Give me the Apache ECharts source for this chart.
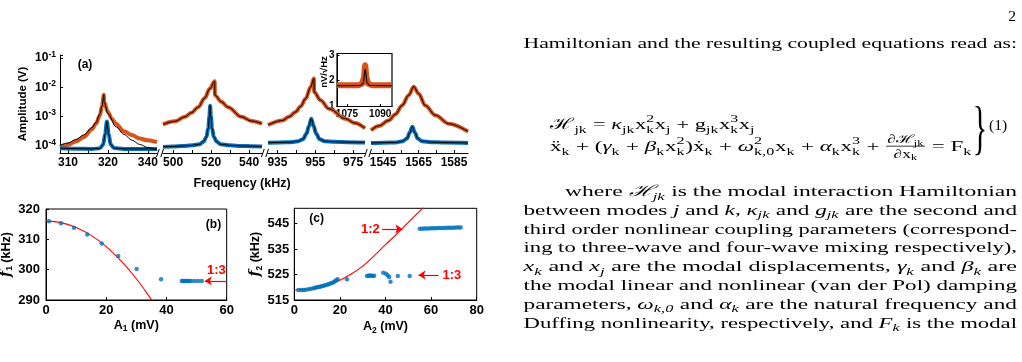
<!DOCTYPE html>
<html><head><meta charset="utf-8">
<script src="https://cdn.jsdelivr.net/npm/echarts@6/dist/echarts.min.js"></script>
<style>html,body{margin:0;padding:0;background:#fff;}#c{width:1022px;height:362px;}</style>
</head><body><div id="c"></div>
<script>
// ================= DATA =================
// Panel (a): four frequency windows (kHz) of amplitude spectra (V)
const freqRangeA = [[308,332.3],[494.7,546.8],[930,981.3],[1538.2,1592.9]];
const tickValsA  = [[310,320,330],[500,520,540],[935,955,975],[1545,1565,1585]];
const tickTextA  = [['310','320','340'],['500','520','540'],['935','955','975'],['1545','1565','1585']];
const minorTicksA = [[310,315,320,325,330],[500,510,520,530,540],[935,945,955,965,975],[1545,1555,1565,1575,1585]];

const orange1 = [[308,9.1e-5],[310,1.1e-4],[312,1.41e-4],[314,2.0e-4],[316,3.7e-4],[317,5.75e-4],[318,1.1e-3],[318.5,2.24e-3],[319,5.6e-3],[319.05,3.16e-3],[320,1.45e-3],[321,8.5e-4],[322,5.75e-4],[324,3.16e-4],[326,2.34e-4],[328,1.78e-4],[330,1.55e-4],[332.3,1.35e-4]];
const fitOrange1 = [[308,1.05e-4],[310,1.26e-4],[312,1.66e-4],[314,2.4e-4],[316,4.2e-4],[317,6.3e-4],[318,1.26e-3],[318.5,2.24e-3],[319,5.6e-3],[319.05,3.16e-3],[320,1.26e-3],[322,4.5e-4],[324,2.5e-4],[326,1.58e-4],[328,1.12e-4],[330,8.9e-5],[332.3,7.1e-5]];
const blue1 = [[308,8.3e-5],[312,8.1e-5],[316,7.9e-5],[318,8.3e-5],[318.8,1.12e-4],[319.3,2.5e-4],[319.75,6.8e-4],[320.2,2.5e-4],[320.7,1.12e-4],[321.5,8.5e-5],[324,7.9e-5],[328,7.9e-5],[332.3,7.9e-5]];

const orange2 = [[494.7,5.4e-4],[500.9,6.9e-4],[506.2,9.8e-4],[509.6,1.35e-3],[513.2,2.1e-3],[516.7,4.3e-3],[519.3,8.9e-3],[521.9,1.6e-2],[522.0,5.4e-3],[525.4,3.2e-3],[528.9,2.1e-3],[536,9.8e-4],[541.2,7.1e-4],[546.8,5.75e-4]];
const blue2 = [[494.7,9.3e-5],[500,9.6e-5],[505,1.0e-4],[510,1.05e-4],[514,1.15e-4],[516,1.4e-4],[517.5,2.0e-4],[518.5,4.0e-4],[519.1,1.0e-3],[519.5,2.35e-3],[519.9,1.0e-3],[520.5,4.0e-4],[521.5,2.0e-4],[523,1.4e-4],[525,1.15e-4],[530,1.05e-4],[536,1.0e-4],[541,9.8e-5],[546.8,9.5e-5]];

const orange3 = [[930,5.2e-4],[937.6,7.4e-4],[941.1,9.8e-4],[944.6,1.45e-3],[947.3,2.24e-3],[949.9,4.1e-3],[952.5,1.0e-2],[954.3,2.0e-2],[954.4,6.9e-3],[957.8,3.6e-3],[962.2,1.86e-3],[971,8.5e-4],[976,6.0e-4],[981.3,4.0e-4]];
const blue3 = [[930,1.29e-4],[936,1.32e-4],[942,1.35e-4],[946,1.45e-4],[948.5,1.7e-4],[950.3,2.6e-4],[951.7,4.8e-4],[952.9,8.5e-4],[954.1,4.8e-4],[955.5,2.6e-4],[957.3,1.7e-4],[960,1.45e-4],[965,1.38e-4],[972,1.35e-4],[981.3,1.32e-4]];

const orange4 = [[1538.2,3.4e-4],[1542.6,4.8e-4],[1548.2,7.4e-4],[1552,1.2e-3],[1555.7,2.4e-3],[1559.5,5.4e-3],[1562.3,1.05e-2],[1565.1,6.0e-3],[1568.8,2.4e-3],[1574.5,1.12e-3],[1582,5.75e-4],[1592.9,3.1e-4]];
const blue4 = [[1538.2,1.26e-4],[1545,1.29e-4],[1552,1.32e-4],[1556,1.45e-4],[1558.5,1.8e-4],[1560,2.8e-4],[1561.5,4.5e-4],[1563,2.8e-4],[1564.5,1.8e-4],[1567,1.45e-4],[1572,1.35e-4],[1580,1.3e-4],[1592.9,1.26e-4]];

// Inset: noise spectrum (nV/sqrt(Hz)) around 1083 kHz
const insetOrange = [[1070.5,1.82],[1080,1.82],[1081.8,1.88],[1082.6,2.1],[1083.2,2.6],[1083.8,2.1],[1084.6,1.88],[1086.5,1.82],[1095.3,1.82]];
const insetFit = [[1070.5,1.8],[1081,1.81],[1082.3,1.9],[1083.2,2.45],[1084.1,1.9],[1085.4,1.81],[1095.3,1.8]];
const insetTicksX = [1075,1090];
const insetTicksY = [1,2,3];

// Panel (b): f1 (kHz) vs A1 (mV)
const bPoints = [[1.0,316.0],[5.0,315.3],[9.3,313.8],[13.7,311.6],[18.5,308.6],[24.0,304.5],[30.1,300.2],[38.2,296.8],[45.1,296.3],[45.5,296.3],[46.0,296.3],[46.4,296.3],[46.8,296.3],[47.2,296.3],[47.7,296.3],[48.3,296.3],[49.4,296.3],[50.5,296.3],[51.7,296.3]];
const bModel = [[0,316.0],[5,315.5],[10,313.9],[15,311.3],[20,307.6],[25,302.8],[30,297.0],[35.1,290.0],[36,288.6]];

// Panel (c): f2 (kHz) vs A2 (mV)
const cPoints = [[1.8,518.9],[3,518.9],[4,518.9],[5,519.0],[6.2,519.2],[7.3,519.4],[8.4,519.6],[9.2,519.8],[9.9,520.0],[10.6,520.1],[11.3,520.2],[12,520.4],[12.8,520.6],[13.5,520.8],[14.3,521.0],[15,521.2],[15.7,521.5],[16.5,521.7],[17.2,522.0],[17.8,522.4],[18.4,522.8],[19.0,523.1],[23.1,523.1],
  [31.9,524.4],[32.5,524.5],[33.2,524.6],[33.8,524.5],[34.5,524.4],[35,524.5],
  [39,525.7],[40.2,525.3],[41,524.6],[41.6,524.0],[42.2,522.2],[45.4,524.4],[50.6,524.4],
  [55,543.0],[56,543.0],[57,543.1],[58,543.1],[59,543.1],[60,543.2],[61,543.2],[62,543.2],[63,543.3],[64,543.3],[65,543.3],[66,543.3],[67,543.4],[68,543.4],[69,543.4],[70,543.4],[71,543.5],[72,543.5],[73,543.5]];
const cModel = [[0,518.9],[5,519.1],[10,519.8],[15,521.0],[20,522.8],[25,525.2],[30,528.3],[35,532.3],[40,536.7],[45,541.0],[50,545.5],[56.2,551],[58,552.6]];
const cTicksY = [515,525,535,545];

// Annotations (data coordinates)
const bArrow13 = [[59.9,296.3],[52.7,296.3]];
const bLabel13 = [56.6,299.6];
const cArrow12 = [[38.5,542.9],[47.4,542.9]];
const cLabel12 = [33.4,542.8];
const cArrow13 = [[63.3,524.8],[54.5,524.8]];
const cLabel13 = [69.1,524.8];

// Right-hand text
const pageNumber = '2';
const introLine = 'Hamiltonian and the resulting coupled equations read as:';
const eqLines = [
  'ℋ_{jk} = *κ*_{jk}x^{2}_{k}x_{j} + g_{jk}x^{3}_{k}x_{j}',
  'ẍ_{k} + (*γ*_{k} + *β*_{k}x^{2}_{k})ẋ_{k} + *ω*^{2}_{k,0}x_{k} + *α*_{k}x^{3}_{k} + [[∂ℋ_{jk}|∂x_{k}]] = F_{k}'
];
const eqNumber = '(1)';
const paraLines = [
  'where *ℋ_{jk}* is the modal interaction Hamiltonian',
  'between modes *j* and *k*, *κ_{jk}* and *g_{jk}* are the second and',
  'third order nonlinear coupling parameters (correspond-',
  'ing to three-wave and four-wave mixing respectively),',
  '*x_{k}* and *x_{j}* are the modal displacements, *γ_{k}* and *β_{k}* are',
  'the modal linear and nonlinear (van der Pol) damping',
  'parameters, *ω_{k,0}* and *α_{k}* are the natural frequency and',
  'Duffing nonlinearity, respectively, and *F_{k}* is the modal'
];

// ================= RENDER =================
const FONT = '"Liberation Sans", Arial, sans-serif';
const SERIF = '"Liberation Serif", "DejaVu Serif", serif';
const ORANGE = '#D95319', BLUE = '#0072BD', RED = '#ff0000';
const TS = 15.6;

const mctx = document.createElement('canvas').getContext('2d');
function tw(t, size, it){ mctx.font = (it ? 'italic ' : '') + size + 'px ' + SERIF; return mctx.measureText(t).width; }
function parseMath(s){
  const toks = []; let it = false, buf = '', i = 0;
  const flush = () => { if (buf) { toks.push({k:'n', t:buf, it}); buf = ''; } };
  while (i < s.length) {
    const c = s[i];
    if (c === '*') { flush(); it = !it; i++; continue; }
    if (s.startsWith('[[', i)) { flush(); const j = s.indexOf(']]', i); const p = s.slice(i+2, j).split('|'); toks.push({k:'frac', num:parseMath(p[0]), den:parseMath(p[1])}); i = j + 2; continue; }
    if ((c === '_' || c === '^') && s[i+1] === '{') {
      flush(); const j = s.indexOf('}', i); const t = s.slice(i+2, j); const kind = c === '_' ? 'sub' : 'sup';
      const prev = toks[toks.length-1];
      if (prev && (prev.k === 'sub' || prev.k === 'sup') && prev.k !== kind && !prev.pair) prev.pair = {k:kind, t, it};
      else toks.push({k:kind, t, it});
      i = j + 1; continue;
    }
    buf += c; i++;
  }
  flush(); return toks;
}
function txt(t, x, y, size, it){
  return {type:'text', x, y, silent:true, style:{text:t, fontSize:size, fontFamily:SERIF, fontStyle: it ? 'italic' : 'normal', fill:'#000', align:'left', verticalAlign:'middle'}};
}
function lay(toks, x, y, size, out){
  let cx = x;
  for (const tk of toks) {
    if (tk.k === 'n') { out.push(txt(tk.t, cx, y, size, tk.it)); cx += tw(tk.t, size, tk.it); }
    else if (tk.k === 'sub' || tk.k === 'sup') {
      const ss = size * 0.7; const parts = [tk].concat(tk.pair ? [tk.pair] : []); let w = 0;
      for (const p of parts) { const dy = p.k === 'sub' ? size*0.3 : -size*0.38; out.push(txt(p.t, cx, y+dy, ss, p.it)); w = Math.max(w, tw(p.t, ss, p.it)); }
      cx += w + size*0.03;
    } else if (tk.k === 'frac') {
      const fs = size * 0.75; const wn = lay(tk.num, 0, 0, fs, []), wd = lay(tk.den, 0, 0, fs, []); const w = Math.max(wn, wd) + 3;
      lay(tk.num, cx + (w-wn)/2, y - size*0.45, fs, out);
      lay(tk.den, cx + (w-wd)/2, y + size*0.5, fs, out);
      out.push({type:'line', silent:true, shape:{x1:cx+0.5, y1:y-size*0.05, x2:cx+w-0.5, y2:y-size*0.05}, style:{stroke:'#000', lineWidth:0.8}});
      cx += w;
    }
  }
  return cx - x;
}
function textLine(markup, x0, x1, y){
  const ch = []; const w = lay(parseMath(markup), 0, 0, TS, ch);
  return {type:'group', x:x0, y:y, scaleX:(x1-x0)/w, children:ch};
}

const gridsA = [[60,97],[163,99],[268,97],[371,97]];
const grids = gridsA.map(g => ({left:g[0], top:55, width:g[1], height:98, outerBoundsMode:'none'}));
grids.push({left:337, top:53.5, width:55, height:53, show:true, borderColor:'#000', borderWidth:1.2, backgroundColor:'transparent', outerBoundsMode:'none'});
grids.push({left:46, top:209, width:180.7, height:91, show:true, borderColor:'#000', borderWidth:1, backgroundColor:'transparent', outerBoundsMode:'none'});
grids.push({left:294.3, top:208.3, width:182.4, height:91.7, show:true, borderColor:'#000', borderWidth:1, backgroundColor:'transparent', outerBoundsMode:'none'});

const axLine = {show:true, onZero:false, lineStyle:{color:'#000', width:1}};
const lblStyle = (fs) => ({color:'#000', fontWeight:'bold', fontSize:fs, fontFamily:FONT});
const nameRich = {
  a:{fontSize:12.5, fontWeight:'bold', fontFamily:FONT, color:'#000', lineHeight:16},
  f:{fontSize:14, fontWeight:'bold', fontStyle:'italic', fontFamily:'"DejaVu Serif", serif', color:'#000', lineHeight:16},
  s:{fontSize:8.5, fontWeight:'bold', fontFamily:FONT, color:'#000', verticalAlign:'bottom', lineHeight:10}
};

const xAxes = [], yAxes = [];
for (let k = 0; k < 4; k++) {
  xAxes.push({gridIndex:k, type:'value', min:freqRangeA[k][0], max:freqRangeA[k][1], axisLine:axLine,
    axisTick:{show:true, inside:true, length:3, customValues:minorTicksA[k], lineStyle:{color:'#000'}},
    axisLabel:Object.assign({customValues:tickValsA[k], margin:4, formatter:(v) => { const i = tickValsA[k].indexOf(v); return i >= 0 ? tickTextA[k][i] : ''; }}, lblStyle(12)),
    splitLine:{show:false}});
  yAxes.push({gridIndex:k, type:'log', logBase:10, min:5.75e-5, max:0.126, show:k === 0, axisLine:axLine,
    axisTick:{show:true, inside:true, length:3, lineStyle:{color:'#000'}},
    axisLabel:{margin:4, formatter:(v) => { const e = Math.log10(v); const r = Math.round(e); return Math.abs(e - r) < 0.01 ? '{b|10}{s|' + r + '}' : ''; },
      rich:{b:{fontSize:12, fontWeight:'bold', fontFamily:FONT, color:'#000', lineHeight:16}, s:{fontSize:8.5, fontWeight:'bold', fontFamily:FONT, color:'#000', verticalAlign:'top', lineHeight:9}}},
    splitLine:{show:false},
    name:'Amplitude (V)', nameLocation:'middle', nameRotate:90, nameGap:31,
    nameTextStyle:{fontSize:11.5, fontWeight:'bold', fontFamily:FONT, color:'#000'}});
}
// inset
xAxes.push({gridIndex:4, type:'value', min:1070.5, max:1095.3, axisLine:axLine,
  axisTick:{show:true, inside:true, length:2.5, customValues:insetTicksX, lineStyle:{color:'#000'}},
  axisLabel:Object.assign({customValues:insetTicksX, margin:3, formatter:(v) => String(v)}, lblStyle(10)), splitLine:{show:false}});
yAxes.push({gridIndex:4, type:'value', min:1, max:3.05, axisLine:axLine,
  axisTick:{show:true, inside:true, length:2.5, customValues:insetTicksY, lineStyle:{color:'#000'}},
  axisLabel:Object.assign({customValues:insetTicksY, margin:2.5, formatter:(v) => String(v)}, lblStyle(10)), splitLine:{show:false}});
// (b)
xAxes.push({gridIndex:5, type:'value', min:0, max:60, interval:20, axisLine:axLine,
  axisTick:{show:true, inside:true, length:3, lineStyle:{color:'#000'}},
  axisLabel:Object.assign({margin:3.5}, lblStyle(13)), splitLine:{show:false},
  name:'{a|A}{s|1}{a| (mV)}', nameLocation:'middle', nameGap:17.5, nameTextStyle:{rich:nameRich}});
yAxes.push({gridIndex:5, type:'value', min:290, max:320, interval:10, axisLine:axLine,
  axisTick:{show:true, inside:true, length:3, lineStyle:{color:'#000'}},
  axisLabel:Object.assign({margin:6}, lblStyle(13)), splitLine:{show:false},
  name:'{f|f}{s|1}{a| (kHz)}', nameLocation:'middle', nameRotate:90, nameGap:29.5, nameTextStyle:{rich:nameRich}});
// (c)
xAxes.push({gridIndex:6, type:'value', min:0, max:80, interval:20, axisLine:axLine,
  axisTick:{show:true, inside:true, length:3, lineStyle:{color:'#000'}},
  axisLabel:Object.assign({margin:3.5}, lblStyle(13)), splitLine:{show:false},
  name:'{a|A}{s|2}{a| (mV)}', nameLocation:'middle', nameGap:19, nameTextStyle:{rich:nameRich}});
yAxes.push({gridIndex:6, type:'value', min:515, max:551, axisLine:axLine,
  axisTick:{show:true, inside:true, length:3, customValues:cTicksY, lineStyle:{color:'#000'}},
  axisLabel:Object.assign({customValues:cTicksY, margin:5}, lblStyle(13)), splitLine:{show:false},
  name:'{f|f}{s|2}{a| (kHz)}', nameLocation:'middle', nameRotate:90, nameGap:28, nameTextStyle:{rich:nameRich}});

const lineS = (k, data, color, width, z) => ({type:'line', xAxisIndex:k, yAxisIndex:k, data, symbol:'none', smooth:0.35, smoothMonotone:'x', silent:true, z, lineStyle:{color, width}, clip:true});
const spectra = [[orange1, fitOrange1, blue1, blue1],[orange2, orange2, blue2, blue2],[orange3, orange3, blue3, blue3],[orange4, orange4, blue4, blue4]];
const series = [];
spectra.forEach((s, k) => {
  series.push(lineS(k, s[0], ORANGE, 4, 2));
  series.push(lineS(k, s[2], BLUE, 4, 2));
  series.push(lineS(k, s[1], '#000', 1, 3));
  series.push(lineS(k, s[3], '#000', 1, 3));
});
series.push(lineS(4, insetOrange, ORANGE, 6, 2));
series.push(lineS(4, insetFit, '#000', 1.1, 3));

const arrowML = (pts) => ({silent:true, symbol:['none','arrow'], symbolSize:7, label:{show:false}, lineStyle:{color:RED, width:1.2, type:'solid'}, emphasis:{disabled:true},
  data:[[{coord:pts[0]}, {coord:pts[1]}]]});
const labelMP = (items) => ({silent:true, data:items.map(it => ({coord:it[0], symbol:'circle', symbolSize:0.1, itemStyle:{color:'transparent'},
  label:{show:true, position:'inside', formatter:it[1], color:RED, fontWeight:'bold', fontSize:13, fontFamily:FONT}}))});

series.push({type:'scatter', xAxisIndex:5, yAxisIndex:5, data:bPoints, symbolSize:4.5, itemStyle:{color:BLUE}, silent:true, z:3});
series.push({type:'line', xAxisIndex:5, yAxisIndex:5, data:bModel, symbol:'none', smooth:0.4, silent:true, z:2, lineStyle:{color:RED, width:1.1},
  markLine:arrowML(bArrow13), markPoint:labelMP([[bLabel13, '1:3']])});
series.push({type:'scatter', xAxisIndex:6, yAxisIndex:6, data:cPoints, symbolSize:4.5, itemStyle:{color:BLUE}, silent:true, z:3});
series.push({type:'line', xAxisIndex:6, yAxisIndex:6, data:cModel, symbol:'none', smooth:0.4, silent:true, z:2, lineStyle:{color:RED, width:1.1},
  markPoint:labelMP([[cLabel12, '1:2'], [cLabel13, '1:3']])});
series.push({type:'line', xAxisIndex:6, yAxisIndex:6, data:[], markLine:arrowML(cArrow12)});
series.push({type:'line', xAxisIndex:6, yAxisIndex:6, data:[], markLine:arrowML(cArrow13)});

// graphic: panel tags, axis break marks, paper text
const g = [];
const boldTxt = (t, x, y, fs, extra) => Object.assign({type:'text', x, y, silent:true, style:{text:t, fontSize:fs, fontWeight:'bold', fontFamily:FONT, fill:'#000', align:'center', verticalAlign:'middle'}}, extra || {});
g.push(boldTxt('(a)', 85, 65, 12));
g.push(boldTxt('(b)', 213.5, 225, 12));
g.push(boldTxt('(c)', 316.7, 218.3, 12));
g.push(boldTxt('Frequency (kHz)', 242, 184, 12.5));
g.push(boldTxt('nV/√Hz', 324.5, 72, 9.5, {rotation:Math.PI/2}));
[160, 265, 368].forEach(bx => {
  g.push({type:'line', silent:true, shape:{x1:bx-3.5, y1:157, x2:bx-0.8, y2:149}, style:{stroke:'#000', lineWidth:1}});
  g.push({type:'line', silent:true, shape:{x1:bx+0.8, y1:157, x2:bx+3.5, y2:149}, style:{stroke:'#000', lineWidth:1}});
});
g.push({type:'text', x:1016, y:16.5, silent:true, style:{text:pageNumber, fontSize:TS, fontFamily:SERIF, fill:'#000', align:'right', verticalAlign:'middle'}});
g.push(textLine(introLine, 523.5, 1017, 43.5));
g.push(textLine(eqLines[0], 550, 755, 125));
g.push(textLine(eqLines[1], 550, 972, 147));
g.push({type:'text', x:980, y:131, silent:true, scaleX:0.5, style:{text:'}', fontSize:60, fontFamily:SERIF, fill:'#000', align:'center', verticalAlign:'middle'}});
g.push({type:'text', x:989, y:126, silent:true, style:{text:eqNumber, fontSize:TS, fontFamily:SERIF, fill:'#000', align:'left', verticalAlign:'middle'}});
paraLines.forEach((l, i) => g.push(textLine(l, i === 0 ? 565 : 523.5, 1017, 192 + 18.8*i)));

const chart = echarts.init(document.getElementById('c'), null, {renderer:'canvas'});
chart.setOption({animation:false, backgroundColor:'#fff', grid:grids, xAxis:xAxes, yAxis:yAxes, series, graphic:{elements:g}});
</script></body></html>
